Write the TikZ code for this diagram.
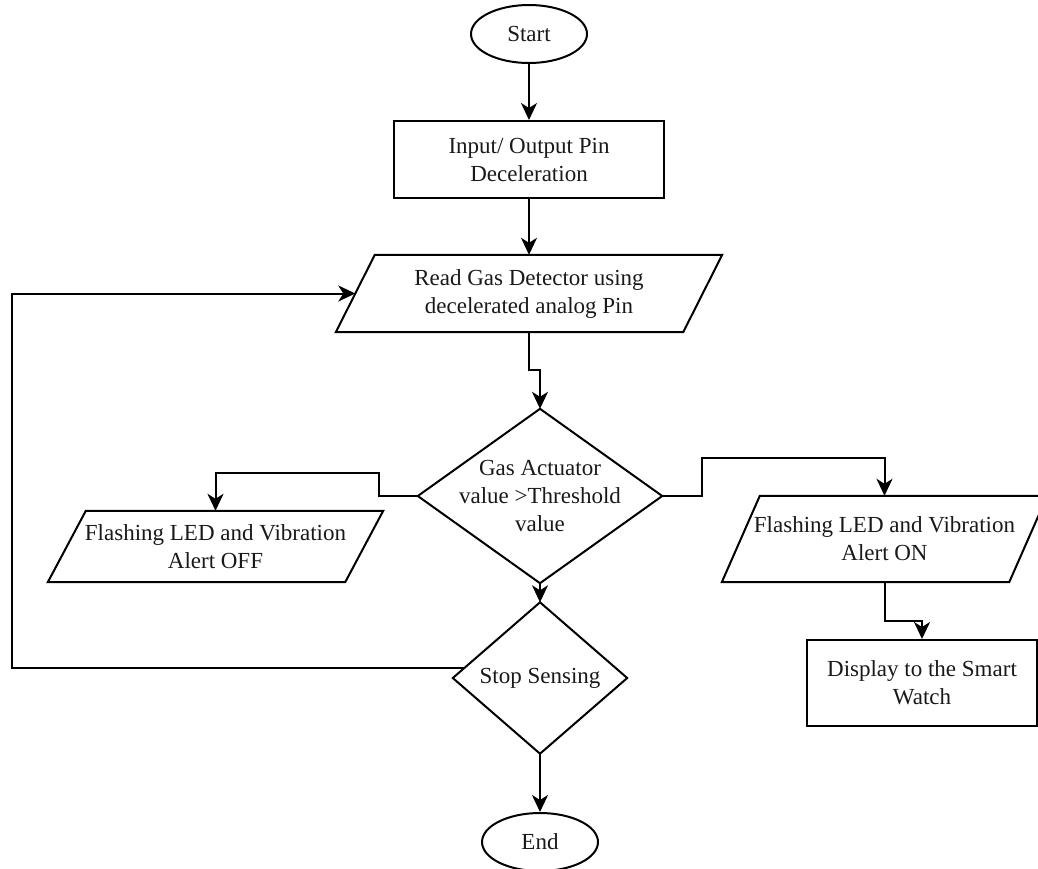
\documentclass[tikz,border=0pt]{standalone}
\usepackage{fontspec}
\setmainfont{Liberation Serif}
\usetikzlibrary{shapes.geometric,arrows.meta,calc}
\begin{document}
\begin{tikzpicture}[x=1pt,y=-1pt,
  every node/.style={font=\fontsize{23}{28}\selectfont, align=center, inner sep=0pt, text=black!90},
  shp/.style={draw, line width=2pt},
  term/.style={shp, ellipse, minimum width=116pt, minimum height=58pt},
  proc/.style={shp, rectangle},
  txtbox/.style={rectangle},
  arr/.style={line width=2pt, -{Stealth[length=17pt,width=16pt,inset=5pt]}},
  outline/.style={line width=2pt, line join=miter}
]
\useasboundingbox (0,0) rectangle (1038,868);
\clip (0,0) rectangle (1038,868);

% nodes
\node[term] (start) at (529,34) {Start};
\node[proc, minimum width=270pt, minimum height=77pt] (io) at (529,159.5) {Input/ Output Pin\\Deceleration};
\node[txtbox, minimum width=347pt, minimum height=77pt] (rd) at (529,293.5) {Read Gas Detector using\\decelerated analog Pin};
\node[txtbox, minimum width=244pt, minimum height=174pt] (gas) at (540,496) {Gas Actuator\\value >Threshold\\value};
\node[txtbox, minimum width=297pt, minimum height=71pt] (off) at (215.5,546.5) {Flashing LED and Vibration\\Alert OFF};
\node[txtbox, minimum width=287pt, minimum height=86pt] (on) at (884.5,539) {Flashing LED and Vibration\\Alert ON};
\node[proc, minimum width=230pt, minimum height=86pt] (disp) at (922,683) {Display to the Smart\\Watch};
\node[txtbox, minimum width=174pt, minimum height=151pt] (ss) at (540,678) {Stop Sensing};
\node[term] (end) at (540,842) {End};

% parallelogram outlines
\draw[outline] ([xshift=-19.5pt]rd.south west) -- ([xshift=-19.5pt]rd.south east) -- ([xshift=19.5pt]rd.north east) -- ([xshift=19.5pt]rd.north west) -- cycle;
\draw[outline] ([xshift=-19pt]off.south west) -- ([xshift=-19pt]off.south east) -- ([xshift=19pt]off.north east) -- ([xshift=19pt]off.north west) -- cycle;
\draw[outline] ([xshift=-19pt]on.south west) -- ([xshift=-19pt]on.south east) -- ([xshift=19pt]on.north east) -- ([xshift=19pt]on.north west) -- cycle;
% diamond outlines
\draw[outline] (gas.north) -- (gas.east) -- (gas.south) -- (gas.west) -- cycle;
\draw[outline] (ss.north) -- (ss.east) -- (ss.south) -- (ss.west) -- cycle;

% connectors
\draw[arr] (start.south) -- (io.north);
\draw[arr] (io.south) -- (rd.north);
\draw[arr] (rd.south) -- ++(0,38) -| (gas.north);
\draw[arr] (gas.west) -- ++(-39,0) -- ++(0,-23) -| (off.north);
\draw[arr] (gas.east) -- ++(40,0) -- ++(0,-38) -| (on.north);
\draw[arr] (on.south) -- ++(0,39) -| (disp.north);
\draw[arr] (gas.south) -- (ss.north);
\draw[arr] (ss.south) -- (end.north);
\coordinate (lp) at ($(ss.west)!0.13!(ss.north)$);
\coordinate (loopx) at (12,0);
\draw[arr] (lp) -- (lp -| loopx) |- (rd.west);
\end{tikzpicture}
\end{document}
